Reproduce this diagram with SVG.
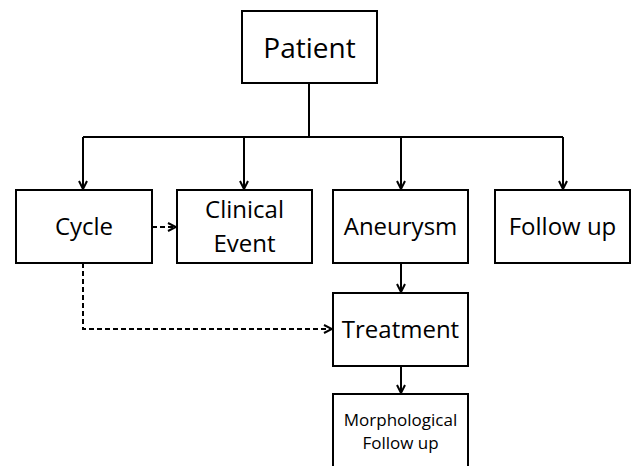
<svg xmlns="http://www.w3.org/2000/svg" width="631" height="466" viewBox="0 0 631 466">
<style>
.box{fill:#fff;stroke:#000;stroke-width:2}
.t{font-family:"Open Sans","Noto Sans",sans-serif;fill:#000;text-anchor:middle}
.c{fill:none;stroke:#000;stroke-width:2}
.d{fill:none;stroke:#000;stroke-width:2;stroke-dasharray:5 3}
</style>
<defs>
<marker id="ah" viewBox="0 0 10 10" refX="9" refY="5" markerWidth="5" markerHeight="5" orient="auto" markerUnits="strokeWidth">
<path d="M1,1 L9,5 L1,9" fill="none" stroke="#000" stroke-width="2"/>
</marker>
</defs>
<rect width="631" height="466" fill="#fff"/>
<g id="connectors">
<path class="c" d="M309,83 V137"/>
<path class="c" d="M83,137 H563"/>
<path class="c" d="M83,137 V189" marker-end="url(#ah)"/>
<path class="c" d="M244,137 V189" marker-end="url(#ah)"/>
<path class="c" d="M401,137 V189" marker-end="url(#ah)"/>
<path class="c" d="M563,137 V189" marker-end="url(#ah)"/>
<path class="c" d="M401,263 V292" marker-end="url(#ah)"/>
<path class="c" d="M401,366 V393" marker-end="url(#ah)"/>
<path class="d" d="M152,227 H176" marker-end="url(#ah)"/>
<path class="d" d="M83,263 V329 H332" marker-end="url(#ah)"/>
</g>
<g id="patient">
<rect class="box" x="242" y="11" width="135" height="72"/>
<text class="t" x="309.5" y="58" font-size="28">Patient</text>
</g>
<g id="cycle">
<rect class="box" x="16" y="190" width="136" height="73"/>
<text class="t" x="84" y="235" font-size="24">Cycle</text>
</g>
<g id="clinical-event">
<rect class="box" x="177" y="190" width="135" height="73"/>
<text class="t" x="244.5" y="218" font-size="24">Clinical</text>
<text class="t" x="244.5" y="252" font-size="24">Event</text>
</g>
<g id="aneurysm">
<rect class="box" x="333" y="190" width="135" height="73"/>
<text class="t" x="400.5" y="235" font-size="24">Aneurysm</text>
</g>
<g id="follow-up">
<rect class="box" x="495" y="190" width="135" height="73"/>
<text class="t" x="562.5" y="235" font-size="24">Follow up</text>
</g>
<g id="treatment">
<rect class="box" x="333" y="293" width="135" height="73"/>
<text class="t" x="400.5" y="338" font-size="24">Treatment</text>
</g>
<g id="morphological-follow-up">
<rect class="box" x="333" y="394" width="135" height="80"/>
<text class="t" x="400.5" y="426" font-size="17">Morphological</text>
<text class="t" x="400.5" y="449" font-size="17">Follow up</text>
</g>
</svg>
